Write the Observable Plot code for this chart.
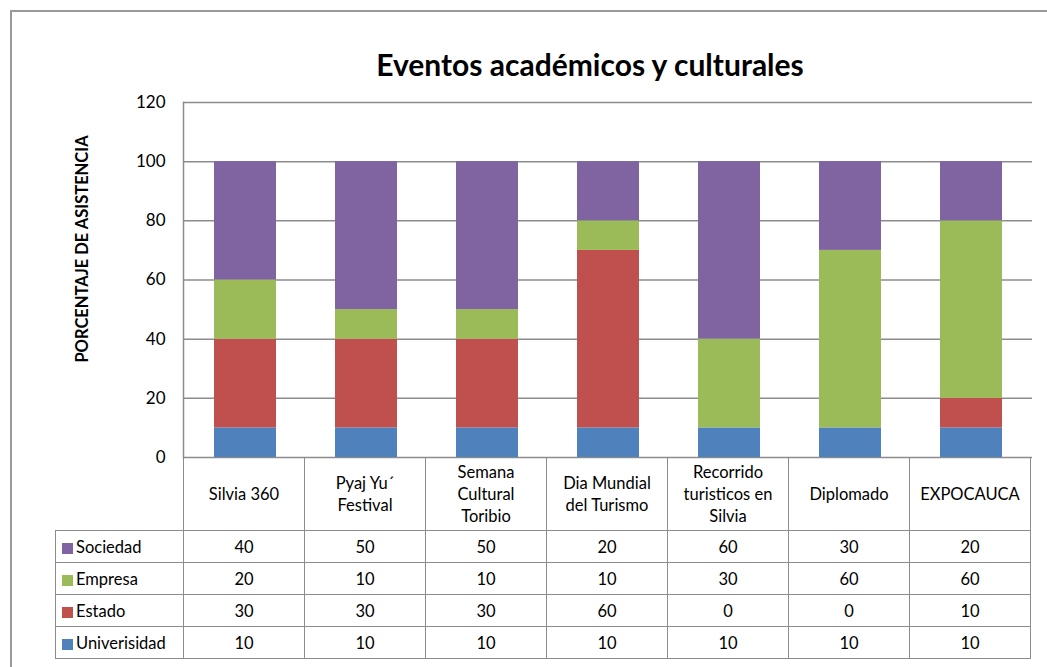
<!DOCTYPE html>
<html><head><meta charset="utf-8">
<script src="https://cdn.jsdelivr.net/npm/d3@7"></script>
<script src="https://cdn.jsdelivr.net/npm/@observablehq/plot@0.6"></script>
<style>
body{margin:0;background:#fff;font-family:Lato,"Open Sans",sans-serif;color:#000;}
#wrap{position:relative;width:1047px;height:667px;overflow:hidden;background:#fff;}
#frame{position:absolute;left:10px;top:10px;width:1100px;height:700px;border-left:2px solid #999;border-top:2px solid #999;}
#title{position:absolute;left:0;width:1180px;top:44px;text-align:center;font-weight:bold;font-size:30px;line-height:40px;}
#ylabel{position:absolute;left:82px;top:249px;transform:translate(-50%,-50%) rotate(-90deg);white-space:nowrap;font-weight:bold;font-size:16.5px;}
#chart{position:absolute;left:0;top:0;}
#tbl{position:absolute;left:55px;top:457px;border-collapse:collapse;table-layout:fixed;font-size:16.5px;}
#tbl td{border:1.5px solid #8c8c8c;text-align:center;padding:0;height:31px;}
#tbl tr.hdr td{height:72px;line-height:22px;}
#tbl td.empty{border:none;}
#tbl td.leg{text-align:left;padding-left:6px;white-space:nowrap;}
.sw{display:inline-block;width:11px;height:11px;margin-right:3px;vertical-align:-1px;}
</style></head>
<body>
<div id="wrap">
  <div id="frame"></div>
  <div id="chart"></div>
  <div id="title">Eventos académicos y culturales</div>
  <div id="ylabel">PORCENTAJE DE ASISTENCIA</div>
</div>
<script>
const categories = ["Silvia 360","Pyaj Yu´ Festival","Semana Cultural Toribio","Dia Mundial del Turismo","Recorrido turisticos en Silvia","Diplomado","EXPOCAUCA"];
const headerLabels = [["Silvia 360"],["Pyaj Yu´","Festival"],["Semana","Cultural","Toribio"],["Dia Mundial","del Turismo"],["Recorrido","turisticos en","Silvia"],["Diplomado"],["EXPOCAUCA"]];
const seriesNames = ["Univerisidad","Estado","Empresa","Sociedad"];
const seriesColors = ["#4F81BD","#C0504D","#9BBB59","#8064A2"];
const univerisidad = [10,10,10,10,10,10,10];
const estado = [30,30,30,60,0,0,10];
const empresa = [20,10,10,10,30,60,60];
const sociedad = [40,50,50,20,60,30,20];
const yTicks = [0,20,40,60,80,100,120];

const seriesValues = [univerisidad, estado, empresa, sociedad];
const rows = [];
seriesNames.forEach((s,i)=>categories.forEach((c,j)=>rows.push({category:c, series:s, value:seriesValues[i][j]})));

const chart = Plot.plot({
  width:1047, height:472,
  marginLeft:183, marginRight:15, marginTop:102, marginBottom:15,
  x:{domain:categories, paddingInner:0.49, paddingOuter:0.245, axis:null},
  y:{domain:[0,120], ticks:yTicks, tickSize:0, tickPadding:18, label:null},
  color:{domain:seriesNames, range:seriesColors},
  style:{fontFamily:"Lato, 'Open Sans', sans-serif", fontSize:"17px", color:"#000", background:"transparent"},
  marks:[
    Plot.ruleY(yTicks, {stroke:"#8c8c8c", strokeWidth:1.5, strokeOpacity:1}),
    Plot.frame({anchor:"left", stroke:"#8c8c8c", strokeWidth:1.5, strokeOpacity:1}),
    Plot.barY(rows, {x:"category", y:"value", fill:"series", order:seriesNames})
  ]
});
document.getElementById("chart").appendChild(chart);

// data table below the chart, aligned with the x band scale
const xs = chart.scale("x");
const step = xs.step;
const tbl = document.createElement("table");
tbl.id = "tbl";
const cg = document.createElement("colgroup");
const c0 = document.createElement("col"); c0.style.width = (xs.range[0]-55)+"px"; cg.appendChild(c0);
categories.forEach(()=>{const c=document.createElement("col"); c.style.width=step+"px"; cg.appendChild(c);});
tbl.appendChild(cg);
const hdr = document.createElement("tr"); hdr.className="hdr";
const e = document.createElement("td"); e.className="empty"; hdr.appendChild(e);
headerLabels.forEach(lines=>{const td=document.createElement("td"); td.innerHTML=lines.join("<br>"); hdr.appendChild(td);});
tbl.appendChild(hdr);
[...seriesNames].reverse().forEach(s=>{
  const i = seriesNames.indexOf(s);
  const tr = document.createElement("tr");
  const lg = document.createElement("td"); lg.className="leg";
  lg.innerHTML = `<span class="sw" style="background:${seriesColors[i]}"></span>${s}`;
  tr.appendChild(lg);
  seriesValues[i].forEach(v=>{const td=document.createElement("td"); td.textContent=v; tr.appendChild(td);});
  tbl.appendChild(tr);
});
document.getElementById("wrap").appendChild(tbl);
</script>
</body></html>
